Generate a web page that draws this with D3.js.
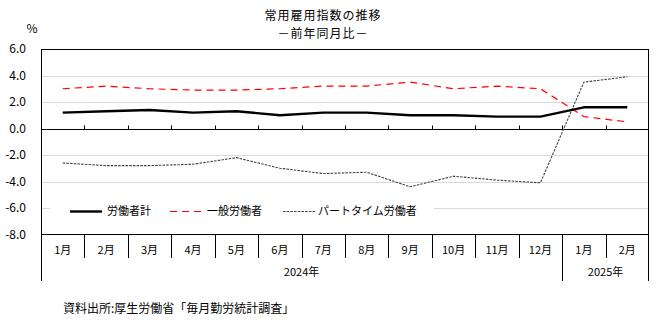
<!DOCTYPE html>
<html>
<head>
<meta charset="utf-8">
<script src="https://cdn.jsdelivr.net/npm/d3@7"></script>
<style>
  body { margin: 0; background: #fff; }
  svg text { font-family: "Noto Sans CJK JP", "Noto Sans", sans-serif; fill: #000; }
</style>
</head>
<body>
<div id="chart"></div>
<script>
var months = ["1月", "2月", "3月", "4月", "5月", "6月", "7月", "8月", "9月", "10月", "11月", "12月", "1月", "2月"];
var years = [{label: "2024年", from: 0, to: 12}, {label: "2025年", from: 12, to: 14}];
var yTicks = [6, 4, 2, 0, -2, -4, -6, -8];

// 前年同月比 (%)
var total = [1.2, 1.3, 1.4, 1.2, 1.3, 1.0, 1.2, 1.2, 1.0, 1.0, 0.9, 0.9, 1.6, 1.6];
var general = [3.0, 3.2, 3.0, 2.9, 2.9, 3.0, 3.2, 3.2, 3.5, 3.0, 3.2, 3.0, 0.9, 0.5];
var parttime = [-2.6, -2.8, -2.8, -2.7, -2.2, -3.0, -3.4, -3.3, -4.4, -3.6, -3.9, -4.1, 3.5, 3.9];

var series = [
    {name: "労働者計", values: total, color: "#000", width: 2.4, dash: null},
    {name: "一般労働者", values: general, color: "#ff0000", width: 1.2, dash: "7,5"},
    {name: "パートタイム労働者", values: parttime, color: "#404040", width: 1.1, dash: "2.5,1.2"}
];

var width = 660, height = 332;
var plotL = 41, plotR = 649, plotT = 49, plotB = 234.5;

var svg = d3.select("#chart").append("svg")
    .attr("width", width)
    .attr("height", height);

var x = d3.scaleBand()
    .domain(d3.range(months.length))
    .range([plotL, plotR])
    .padding(0);

var y = d3.scaleLinear()
    .domain([-8, 6])
    .range([plotB, plotT]);

// title
svg.append("text")
    .attr("x", 323).attr("y", 20)
    .attr("text-anchor", "middle")
    .style("font-size", "12px")
    .style("letter-spacing", "1px")
    .text("常用雇用指数の推移");
svg.append("text")
    .attr("x", 323).attr("y", 38)
    .attr("text-anchor", "middle")
    .style("font-size", "12px")
    .style("letter-spacing", "1px")
    .text("－前年同月比－");

svg.append("text")
    .attr("x", 32).attr("y", 32.5)
    .attr("text-anchor", "middle")
    .style("font-size", "12px")
    .text("%");

// gridlines
svg.append("g")
    .selectAll("line")
    .data(yTicks.filter(d => d !== 0 && d !== 6 && d !== -8))
    .enter().append("line")
    .attr("x1", plotL).attr("x2", plotR)
    .attr("y1", d => Math.round(y(d)) + 0.5)
    .attr("y2", d => Math.round(y(d)) + 0.5)
    .attr("stroke", "#d9d9d9")
    .attr("stroke-width", 1);

// y labels
svg.append("g")
    .selectAll("text")
    .data(yTicks)
    .enter().append("text")
    .attr("x", 26)
    .attr("y", d => y(d))
    .attr("dy", "0.36em")
    .attr("text-anchor", "end")
    .style("font-size", "12px")
    .text(d => d3.format(".1f")(d).replace("−", "-"));

// zero line with ticks at category boundaries
var zy = Math.round(y(0)) + 0.5;
svg.append("line")
    .attr("x1", plotL).attr("x2", plotR)
    .attr("y1", zy).attr("y2", zy)
    .attr("stroke", "#000");
svg.append("g")
    .selectAll("line")
    .data(d3.range(1, months.length))
    .enter().append("line")
    .attr("x1", d => Math.round(x(d)) + 0.5)
    .attr("x2", d => Math.round(x(d)) + 0.5)
    .attr("y1", zy - 4).attr("y2", zy)
    .attr("stroke", "#000");

// legend background covers the gridline
svg.append("rect")
    .attr("x", 50).attr("y", 200)
    .attr("width", 384).attr("height", 22)
    .attr("fill", "#fff");

var line = d3.line()
    .x((d, i) => x(i) + x.bandwidth() / 2)
    .y(d => y(d));

svg.append("g")
    .selectAll("path")
    .data(series.slice().reverse())
    .enter().append("path")
    .attr("d", d => line(d.values))
    .attr("fill", "none")
    .attr("stroke", d => d.color)
    .attr("stroke-width", d => d.width)
    .attr("stroke-dasharray", d => d.dash)
    .attr("stroke-linejoin", "round");

// legend
var legendX = [70, 170, 283];
var lg = svg.append("g")
    .selectAll("g")
    .data(series)
    .enter().append("g")
    .attr("transform", (d, i) => "translate(" + legendX[i] + ",211.5)");
lg.append("line")
    .attr("x1", 0).attr("x2", 32)
    .attr("stroke", d => d.color)
    .attr("stroke-width", d => d.width)
    .attr("stroke-dasharray", d => d.dash);
lg.append("text")
    .attr("x", (d, i) => i === 2 ? 35 : 37)
    .attr("dy", "0.36em")
    .style("font-size", "11px")
    .text(d => d.name);

// plot frame
svg.append("rect")
    .attr("x", plotL + 0.5).attr("y", plotT + 0.5)
    .attr("width", plotR - plotL - 1).attr("height", plotB - plotT - 0.5)
    .attr("fill", "none")
    .attr("stroke", "#000");

// category table below the plot
var rowMid = 258, rowEnd = 281;
var bounds = d3.range(0, months.length + 1);
var yearBounds = [0].concat(years.map(d => d.to));
var bx = d => Math.round(d === months.length ? plotR - 1 : x(d)) + 0.5;
svg.append("g")
    .selectAll("line")
    .data(bounds)
    .enter().append("line")
    .attr("x1", bx)
    .attr("x2", bx)
    .attr("y1", plotB)
    .attr("y2", d => yearBounds.indexOf(d) >= 0 ? rowEnd : rowMid)
    .attr("stroke", "#000");

svg.append("g")
    .selectAll("text")
    .data(months)
    .enter().append("text")
    .attr("x", (d, i) => x(i) + x.bandwidth() / 2)
    .attr("y", 250)
    .attr("dy", "0.36em")
    .attr("text-anchor", "middle")
    .style("font-size", "11px")
    .text(d => d);

svg.append("g")
    .selectAll("text")
    .data(years)
    .enter().append("text")
    .attr("x", d => (x(d.from) + (d.to === months.length ? plotR : x(d.to))) / 2)
    .attr("y", 272)
    .attr("dy", "0.36em")
    .attr("text-anchor", "middle")
    .style("font-size", "11px")
    .text(d => d.label);

// source
svg.append("text")
    .attr("x", 63).attr("y", 309)
    .attr("dy", "0.36em")
    .style("font-size", "12px")
    .text("資料出所:厚生労働省「毎月勤労統計調査」");
</script>
</body>
</html>
